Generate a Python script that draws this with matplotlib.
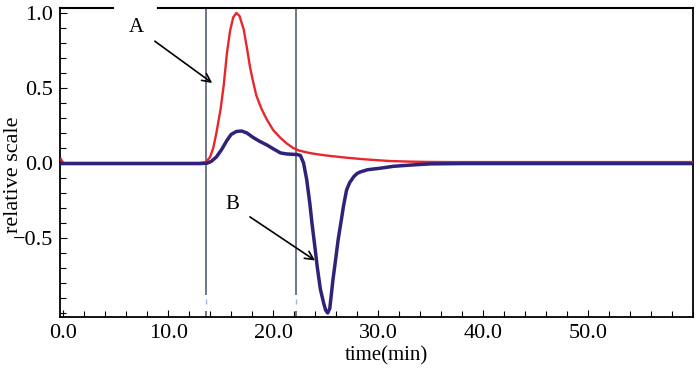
import matplotlib
matplotlib.use('Agg')
import matplotlib.pyplot as plt
from matplotlib.ticker import MultipleLocator, FixedLocator, FixedFormatter

plt.rcParams['font.family'] = ['Liberation Serif', 'DejaVu Serif']

# curve A (red)
t_a = [-0.2, 0.0, 13.0, 13.6, 14.0, 14.3, 14.6, 15.0, 15.3, 15.6, 15.9, 16.2, 16.5,
       16.8, 17.2, 17.5, 17.8, 18.1, 18.4, 18.9, 19.4, 20.0, 20.7, 21.3, 21.9, 22.5,
       23.5, 24.5, 25.4, 27.0, 28.6, 30.0, 31.1, 33.0, 34.7, 37.0, 41.0, 50.0, 60.0]
v_a = [0.025, 0.0, 0.0, 0.005, 0.04, 0.1, 0.2, 0.36, 0.52, 0.73, 0.88, 0.97, 1.0,
       0.98, 0.89, 0.77, 0.64, 0.54, 0.45, 0.36, 0.29, 0.22, 0.167, 0.13, 0.1, 0.082,
       0.066, 0.055, 0.047, 0.035, 0.025, 0.018, 0.013, 0.009, 0.007, 0.006, 0.006, 0.006, 0.006]

# curve B (blue)
t_b = [-0.1, 13.0, 13.7, 14.1, 14.6, 15.1, 15.6, 16.0, 16.5, 17.0, 17.5, 18.1, 18.7,
       19.4, 20.0, 20.7, 21.3, 21.8, 22.3, 22.6, 22.9, 23.2, 23.5, 23.7, 24.0, 24.2,
       24.5, 24.8, 25.0, 25.2, 25.4, 25.7, 26.0, 26.2, 26.5, 26.7, 27.0, 27.3, 27.7,
       28.0, 28.3, 29.0, 30.2, 31.5, 33.3, 35.0, 38.0, 45.0, 59.8]
v_b = [-0.004, -0.004, -0.002, 0.01, 0.04, 0.09, 0.15, 0.19, 0.21, 0.213, 0.2, 0.17, 0.145,
       0.12, 0.095, 0.067, 0.06, 0.058, 0.056, 0.05, 0.0, -0.11, -0.27, -0.4, -0.57, -0.69,
       -0.84, -0.93, -0.98, -1.0, -0.97, -0.78, -0.62, -0.51, -0.38, -0.29, -0.18, -0.13, -0.09,
       -0.07, -0.06, -0.045, -0.035, -0.022, -0.013, -0.006, -0.004, -0.004, -0.004]

# marker lines
v_lines = [13.6, 22.2]

x_ticks = [0, 10, 20, 30, 40, 50]
x_labels = ['0.0', '10.0', '20.0', '30.0', '40.0', '50.0']
y_ticks = [-0.5, 0.0, 0.5, 1.0]
y_labels = ['\u22120.5', '0.0', '0.5', '1.0']

fig = plt.figure(figsize=(7.0, 3.73), dpi=100)
ax = fig.add_axes([0.0857, 0.150, 0.9043, 0.8286])

ax.plot(t_a, v_a, color='#e8262c', lw=1.7, zorder=3)
ax.plot(t_b, v_b, color='#2e2378', lw=2.5, zorder=4)

ax.set_xlim(-0.3, 60)
ax.set_ylim(-1.027, 1.033)

for t in v_lines:
    ax.vlines(t, -0.88, 1.033, color='#70768a', lw=1.4, zorder=2)
    ax.vlines(t, -0.905, -0.94, color='#9fb6dd', lw=1.0, zorder=2)
    ax.vlines(t, -0.99, -1.027, color='#70768a', lw=1.4, zorder=2)

# top spine has a gap on the left
ax.spines['top'].set_visible(False)
ax.plot([0, 0.0837], [1, 1], transform=ax.transAxes, color='black', lw=1.5, clip_on=False)
ax.plot([0.155, 1], [1, 1], transform=ax.transAxes, color='black', lw=1.5, clip_on=False)
for s in ['left', 'bottom', 'right']:
    ax.spines[s].set_linewidth(1.3)

ax.xaxis.set_major_locator(FixedLocator(x_ticks))
ax.xaxis.set_major_formatter(FixedFormatter(x_labels))
ax.xaxis.set_minor_locator(MultipleLocator(2))
ax.yaxis.set_major_locator(FixedLocator(y_ticks))
ax.yaxis.set_major_formatter(FixedFormatter(y_labels))
ax.yaxis.set_minor_locator(MultipleLocator(0.1))
ax.tick_params(which='both', direction='in', top=False, right=False, labelsize=16, width=0.8)
ax.tick_params(which='major', length=5, pad=5)
ax.tick_params(which='minor', length=4)

ax.set_xlabel('time(min)', fontsize=15)
ax.xaxis.set_label_coords(0.515, -0.095)
ax.set_ylabel('relative scale', fontsize=16, va='center')
ax.yaxis.set_label_coords(-0.074, 0.46)

ax.annotate('A', xy=(14.2, 0.533), xytext=(7.0, 0.9), fontsize=15,
            ha='center', va='center',
            arrowprops=dict(arrowstyle='->', color='black', lw=1.2,
                            shrinkA=7, shrinkB=0))
ax.annotate('B', xy=(24.0, -0.65), xytext=(16.1, -0.28), fontsize=15,
            ha='center', va='center',
            arrowprops=dict(arrowstyle='->', color='black', lw=1.2,
                            shrinkA=7, shrinkB=0))

fig.savefig('out.png', dpi=100)
